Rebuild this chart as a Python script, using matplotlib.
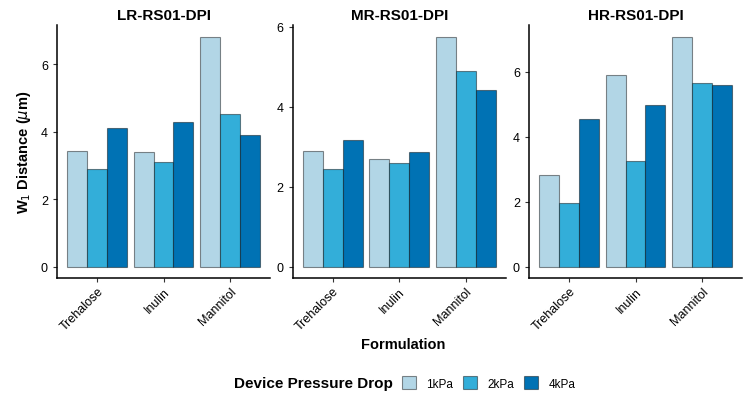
import matplotlib.pyplot as plt
import numpy as np

plt.rcParams["font.family"] = ["Liberation Sans", "DejaVu Sans"]

PANELS = ["LR-RS01-DPI", "MR-RS01-DPI", "HR-RS01-DPI"]
FORMULATIONS = ["Trehalose", "Inulin", "Mannitol"]
PRESSURES = ["1kPa", "2kPa", "4kPa"]
COLORS = ["#b2d6e6", "#33aed9", "#0072b4"]

# W1 distance per panel, rows = pressure drop, columns = formulation
lr_values = [[3.43, 3.40, 6.82],
             [2.89, 3.09, 4.52],
             [4.11, 4.27, 3.90]]
mr_values = [[2.90, 2.69, 5.76],
             [2.44, 2.59, 4.89],
             [3.18, 2.87, 4.41]]
hr_values = [[2.82, 5.90, 7.09],
             [1.95, 3.26, 5.65],
             [4.54, 4.97, 5.59]]
PANEL_VALUES = [lr_values, mr_values, hr_values]

W, H = 751, 402
fig = plt.figure(figsize=(W / 100, H / 100), dpi=100)
lefts = [57 / W, 292.7 / W, 529 / W]
width = 213 / W
bottom = 1 - 279 / H
height = (279 - 26) / H

x = np.arange(1, len(FORMULATIONS) + 1)
bw = 0.3
handles = []
for i, (name, vals) in enumerate(zip(PANELS, PANEL_VALUES)):
    ax = fig.add_axes([lefts[i], bottom, width, height])
    vals = np.array(vals)
    for j, (p, c) in enumerate(zip(PRESSURES, COLORS)):
        bars = ax.bar(x + (j - 1) * bw, vals[j], width=bw, color=c,
                      edgecolor=(0, 0, 0, 0.45), linewidth=0.8, label=p)
        if i == 0:
            handles.append(bars)
    vmax = vals.max()
    ax.set_ylim(-0.05 * vmax, vmax * 1.05)
    ax.set_xlim(0.4, 3.6)
    ax.set_xticks(x)
    ax.set_xticklabels(FORMULATIONS, rotation=45, ha="right",
                       rotation_mode="anchor", fontsize=9)
    ax.yaxis.set_major_locator(plt.MultipleLocator(2))
    ax.tick_params(axis="y", labelsize=9, length=3, width=0.8, color="#333333")
    ax.tick_params(axis="x", length=3, width=0.8, color="#333333", pad=2)
    for s in ["top", "right"]:
        ax.spines[s].set_visible(False)
    for s in ["left", "bottom"]:
        ax.spines[s].set_linewidth(1.1)
    ax.set_title(name, fontsize=11, fontweight="bold", pad=4)
    if i == 0:
        ax.set_ylabel(r"W$_1$ Distance ($\mu$m)", fontsize=10.5,
                      fontweight="bold", labelpad=6)

fig.text(403 / W, 1 - 345 / H, "Formulation",
         fontsize=10.5, fontweight="bold", ha="center", va="center")

# legend: bold title on the left, keys in a row
fig.text(393 / W, 1 - 384 / H, "Device Pressure Drop", fontsize=11,
         fontweight="bold", ha="right", va="center")
fig.legend(handles=handles, labels=PRESSURES, loc="center left",
           bbox_to_anchor=(402 / W, 1 - 384 / H), ncol=3, frameon=False,
           fontsize=8.5, borderpad=0, borderaxespad=0, handlelength=1.2,
           handleheight=1.2, columnspacing=0.85, handletextpad=0.85)

fig.savefig("out.png", dpi=100)
